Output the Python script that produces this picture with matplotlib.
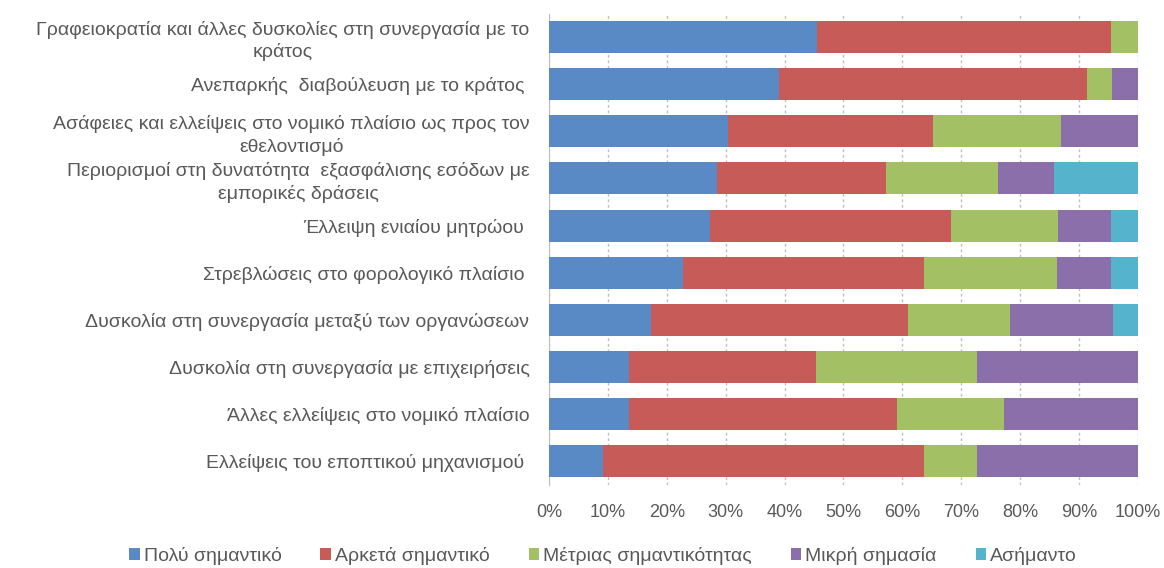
import matplotlib
matplotlib.use("Agg")
import matplotlib.pyplot as plt
import numpy as np

# categories, top to bottom
categories = [
    "Γραφειοκρατία και άλλες δυσκολίες στη συνεργασία με το\nκράτος",
    "Ανεπαρκής  διαβούλευση με το κράτος ",
    "Ασάφειες και ελλείψεις στο νομικό πλαίσιο ως προς τον\nεθελοντισμό",
    "Περιορισμοί στη δυνατότητα  εξασφάλισης εσόδων με\nεμπορικές δράσεις",
    "Έλλειψη ενιαίου μητρώου ",
    "Στρεβλώσεις στο φορολογικό πλαίσιο ",
    "Δυσκολία στη συνεργασία μεταξύ των οργανώσεων",
    "Δυσκολία στη συνεργασία με επιχειρήσεις",
    "Άλλες ελλείψεις στο νομικό πλαίσιο",
    "Ελλείψεις του εποπτικού μηχανισμού ",
]

series_names = ["Πολύ σημαντικό", "Αρκετά σημαντικό", "Μέτριας σημαντικότητας",
                "Μικρή σημασία", "Ασήμαντο"]

poly = [45.5, 39.1, 30.4, 28.6, 27.3, 22.7, 17.4, 13.6, 13.6, 9.1]
arketa = [50.0, 52.2, 34.8, 28.6, 40.9, 40.9, 43.5, 31.8, 45.5, 54.5]
metrias = [4.5, 4.3, 21.7, 19.0, 18.2, 22.7, 17.4, 27.3, 18.2, 9.1]
mikri = [0.0, 4.4, 13.1, 9.5, 9.1, 9.1, 17.4, 27.3, 22.7, 27.3]
asimanto = [0.0, 0.0, 0.0, 14.3, 4.5, 4.6, 4.3, 0.0, 0.0, 0.0]

colors = ["#5A8AC6", "#C75B58", "#A4C064", "#8A6FAA", "#55B3CB"]
txt = "#595959"

plt.rcParams['font.family'] = ['Liberation Sans', 'DejaVu Sans']

fig = plt.figure(figsize=(11.64, 5.68), dpi=100)
ax = fig.add_axes([0.4716, 0.147, 0.506, 0.829])

y = np.arange(len(categories))
left = np.zeros(len(categories))
for name, vals, c in zip(series_names, [poly, arketa, metrias, mikri, asimanto], colors):
    vals = np.array(vals)
    ax.barh(y, vals, left=left, height=0.68, color=c, label=name, zorder=3)
    left += vals

ax.set_ylim(len(categories) - 0.5, -0.5)
ax.set_xlim(0, 100)
ax.set_xticks(np.arange(0, 101, 10))
ax.set_xticklabels([f"{v}%" for v in range(0, 101, 10)], fontsize=13, color=txt)
ax.set_yticks(y)
ax.set_yticklabels(categories, fontsize=14, color=txt, multialignment='center',
                   linespacing=1.3)
ax.tick_params(axis='y', length=0, pad=14)
ax.tick_params(axis='x', length=0, pad=14)
ax.grid(axis='x', color='#BFBFBF', linestyle=(0, (2, 2)), linewidth=1, zorder=0)
for s in ['top', 'right', 'bottom']:
    ax.spines[s].set_visible(False)
ax.spines['left'].set_color('#BFBFBF')

leg = fig.legend(loc='lower center', bbox_to_anchor=(0.518, -0.025), ncol=5, frameon=False,
                 fontsize=14, handlelength=0.55, handleheight=0.55, handletextpad=0.2,
                 columnspacing=2.0)
for t in leg.get_texts():
    t.set_color(txt)

fig.savefig("out.png", dpi=100)
